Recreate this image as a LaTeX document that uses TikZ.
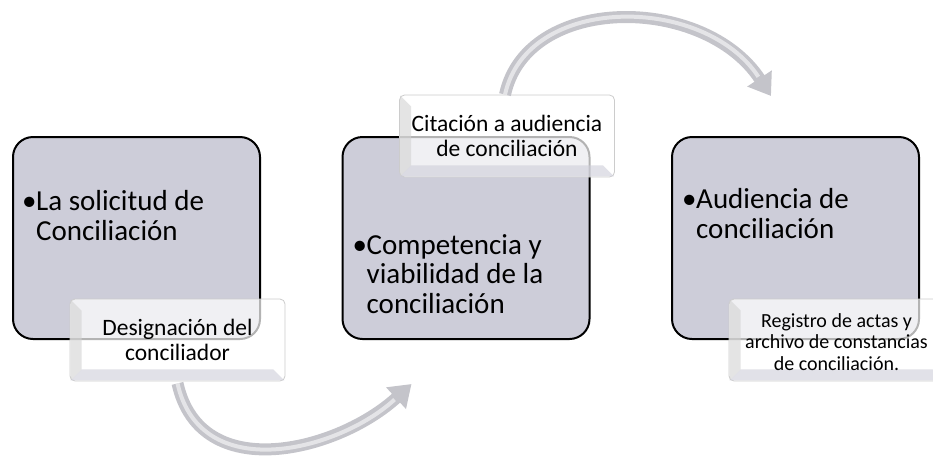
\documentclass[tikz,border=0pt]{standalone}
\usepackage{fontspec}
\setmainfont{Carlito}
\usetikzlibrary{arrows.meta,positioning,calc}

\definecolor{boxfill}{RGB}{205,205,217}
\definecolor{arrowgray}{RGB}{196,196,202}

\newcommand{\bul}{\makebox[14pt][l]{•}}
\newcommand{\ind}{\hspace*{14pt}}

\tikzset{
  mainbox/.style={draw=black, line width=2pt, fill=boxfill, rounded corners=20pt,
    minimum width=247pt, minimum height=202pt, inner sep=0pt},
  subbox/.style={draw=gray!40, line width=0.8pt, fill=white, fill opacity=0.7,
    rounded corners=5pt, minimum width=215pt, minimum height=82pt, inner sep=0pt},
  maintext/.style={anchor=base west, align=left, inner sep=0pt,
    font=\fontsize{29}{29.5}\selectfont},
  subtext/.style={align=center, inner sep=0pt, font=\fontsize{23.5}{25}\selectfont},
  smalltext/.style={align=center, inner sep=0pt, font=\fontsize{20}{21.5}\selectfont},
  flowarrow/.style={line width=12pt, draw=arrowgray, -{Triangle[width=28pt,length=21pt]}},
  arrowshine/.style={line width=4pt, draw=white, draw opacity=0.55, shorten >=23pt},
  bevelside/.style={fill=gray!35, fill opacity=0.6},
  bevelfoot/.style={fill=boxfill, fill opacity=0.6},
}

\begin{document}
\begin{tikzpicture}[x=1pt,y=-1pt]
\useasboundingbox (0,0) rectangle (933,456);
\clip (0,0) rectangle (933,456);

% main steps
\node[mainbox] (sol) at (136.5,238) {};
\node[mainbox] (comp) at (466,238) {};
\node[mainbox] (aud) at (795.5,238) {};

% secondary boxes
\node[subbox] (desig) at ([xshift=41pt]sol.south) {};
\node[subbox] (cita) at ([xshift=41pt]comp.north) {};
\node[subbox] (regis) at ([xshift=41pt]aud.south) {};

\foreach \s in {desig,cita,regis} {
  \fill[bevelside] ($(\s.north west)+(1,1)$) -- +(11,11) -- ($(\s.south west)+(12,-12)$) -- ($(\s.south west)+(1,-1)$) -- cycle;
  \fill[bevelfoot] ($(\s.south west)+(1,-1)$) -- +(11,-11) -- ($(\s.south east)+(-12,-12)$) -- ($(\s.south east)+(-1,-1)$) -- cycle;
}

% texts (base = last line)
\node[maintext] (soltxt) at ($(sol.north west)+(10,104)$) {\bul La solicitud de\\\ind Conciliación};
\node[maintext] (comptxt) at ($(comp.north west)+(11,177)$) {\bul Competencia y\\\ind viabilidad de la\\\ind conciliación};
\node[maintext] (audtxt) at ($(aud.north west)+(11,102)$) {\bul Audiencia de\\\ind conciliación};

\node[subtext] (desigtxt) at (desig) {Designación del\\conciliador};
\node[subtext] (citatxt) at (cita) {Citación a audiencia\\de conciliación};
\node[smalltext] (registxt) at ([yshift=-2pt]regis) {Registro de actas y\\archivo de constancias\\de conciliación.};

% curved arrows
\coordinate (tipa) at ([xshift=70pt,yshift=-44pt]comp.south west);
\coordinate (tipb) at ([xshift=100pt,yshift=40pt]aud.north west);
\draw[flowarrow] ([yshift=-2pt]desig.south) .. controls +(23,103) and +(-73,67) .. (tipa);
\draw[arrowshine] ([yshift=-2pt]desig.south) .. controls +(23,103) and +(-73,67) .. (tipa);
\draw[flowarrow] ([xshift=-2pt]cita.north) .. controls +(22,-101) and +(-67,-102) .. (tipb);
\draw[arrowshine] ([xshift=-2pt]cita.north) .. controls +(22,-101) and +(-67,-102) .. (tipb);

\end{tikzpicture}
\end{document}
